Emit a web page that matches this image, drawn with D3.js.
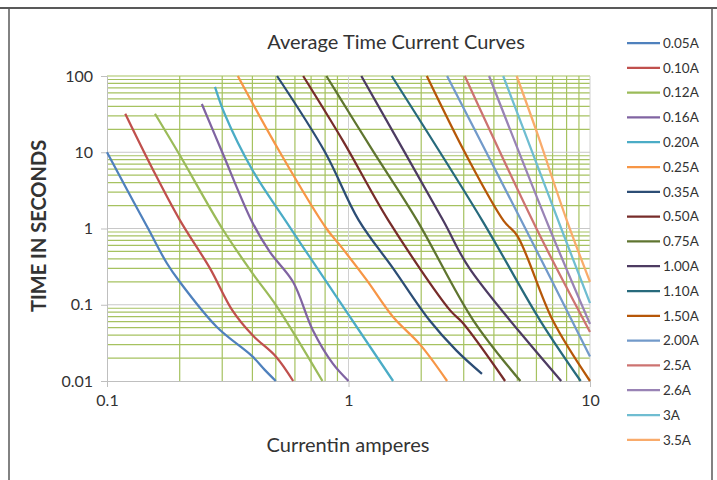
<!DOCTYPE html>
<html>
<head>
<meta charset="utf-8">
<script src="https://cdn.jsdelivr.net/npm/d3@7"></script>
<style>
  body { margin: 0; background: #fff; }
  text { font-family: Lato, "Open Sans", sans-serif; fill: #333; }
</style>
</head>
<body>
<script>
// series names and colours, in legend order
var seriesNames = ["0.05A", "0.10A", "0.12A", "0.16A", "0.20A", "0.25A", "0.35A", "0.50A", "0.75A",
                   "1.00A", "1.10A", "1.50A", "2.00A", "2.5A", "2.6A", "3A", "3.5A"];
var seriesColors = ["#4F81BD", "#C0504D", "#9BBB59", "#8064A2", "#4BACC6", "#F79646", "#2C4D75", "#772C2A", "#5F7530",
                    "#4D3B62", "#276A7C", "#B65708", "#729ACA", "#CD7371", "#9983B5", "#6FBDD1", "#F9AB6B"];

// [current A, time s]
var c005 = [[0.1, 10], [0.12, 3.4], [0.148, 1.0], [0.177, 0.35], [0.2, 0.2], [0.285, 0.051], [0.4, 0.021], [0.45, 0.014], [0.5, 0.01]];
var c010 = [[0.119, 32], [0.155, 5.9], [0.2, 1.3], [0.267, 0.3], [0.33, 0.085], [0.4, 0.04], [0.5, 0.021], [0.59, 0.01]];
var c012 = [[0.158, 32], [0.2, 9.2], [0.3, 1.0], [0.4, 0.26], [0.506, 0.094], [0.78, 0.01]];
var c016 = [[0.247, 43], [0.3, 10], [0.4, 1.2], [0.473, 0.49], [0.589, 0.2], [0.71, 0.047], [0.86, 0.017], [1.0, 0.01]];
var c020 = [[0.28, 72], [0.308, 31], [0.4, 5.85], [0.55, 1.25], [0.837, 0.171], [0.923, 0.108], [1.53, 0.01]];
var c025 = [[0.348, 100], [0.52, 10], [0.81, 1.0], [0.923, 0.6], [1.19, 0.21], [1.53, 0.069], [1.98, 0.03], [2.56, 0.01]];
var c035 = [[0.506, 100], [0.8, 10], [1.1, 1.3], [1.53, 0.3], [2.16, 0.063], [2.8, 0.025], [3.57, 0.0124]];
var c050 = [[0.649, 100], [0.95, 14], [1.46, 1.29], [2.63, 0.085], [2.97, 0.058], [4.45, 0.01]];
var c075 = [[0.81, 100], [1.0, 34], [1.26, 10.5], [1.92, 1.29], [3.28, 0.063], [5.15, 0.01]];
var c100 = [[1.13, 100], [2.46, 1.29], [3.17, 0.3], [7.6, 0.01]];
var c110 = [[1.51, 100], [3.57, 1.29], [6.2, 0.063], [9.15, 0.01]];
var c150 = [[2.11, 100], [3.1, 8.7], [4.4, 1.25], [5.0, 0.8], [7.0, 0.063], [10, 0.01]];
var c200 = [[2.56, 100], [5.4, 1.0], [10, 0.021]];
var c250 = [[3.03, 100], [6.0, 1.0], [10, 0.044]];
var c260 = [[3.82, 100], [6.8, 1.0], [10, 0.056]];
var c300 = [[4.37, 100], [6.0, 7.2], [7.6, 1.0], [10, 0.105]];
var c350 = [[4.97, 100], [6.0, 19], [8.0, 1.3], [10, 0.2]];
var seriesData = [c005, c010, c012, c016, c020, c025, c035, c050, c075, c100, c110, c150, c200, c250, c260, c300, c350];

var xTicks = [0.1, 1, 10];
var yTicks = [0.01, 0.1, 1, 10, 100];

var W = 717, H = 480;
var plot = { left: 107, right: 590, top: 76, bottom: 381 };

var svg = d3.select("body").append("svg")
    .attr("width", W)
    .attr("height", H);

svg.append("rect").attr("width", W).attr("height", H).attr("fill", "#fff");

// chart frame
svg.append("line").attr("x1", 0).attr("x2", W).attr("y1", 8).attr("y2", 8)
    .attr("stroke", "#595959").attr("stroke-width", 2);
svg.append("line").attr("x1", 9).attr("x2", 9).attr("y1", 8).attr("y2", H)
    .attr("stroke", "#595959").attr("stroke-width", 1.5);
svg.append("line").attr("x1", 712).attr("x2", 712).attr("y1", 8).attr("y2", H)
    .attr("stroke", "#595959").attr("stroke-width", 1.5);

var xScale = d3.scaleLog().domain([0.1, 10]).range([plot.left, plot.right]);
var yScale = d3.scaleLog().domain([0.01, 100]).range([plot.bottom, plot.top]);

// minor grid values 2..9 in each decade
function minors(lo, hi) {
    var out = [];
    for (var d = lo; d < hi * 0.999; d *= 10) {
        for (var k = 2; k <= 9; k++) out.push(d * k);
    }
    return out;
}

var grid = svg.append("g");
grid.selectAll(".vmin").data(minors(0.1, 10)).enter().append("line")
    .attr("x1", d => xScale(d)).attr("x2", d => xScale(d))
    .attr("y1", plot.top).attr("y2", plot.bottom)
    .attr("stroke", "#A6C260").attr("stroke-width", 1.2);
grid.selectAll(".hmin").data(minors(0.01, 100).concat([100])).enter().append("line")
    .attr("x1", plot.left).attr("x2", plot.right)
    .attr("y1", d => yScale(d)).attr("y2", d => yScale(d))
    .attr("stroke", "#A6C260").attr("stroke-width", 1.2);
grid.selectAll(".vmaj").data([1, 10]).enter().append("line")
    .attr("x1", d => xScale(d)).attr("x2", d => xScale(d))
    .attr("y1", plot.top).attr("y2", plot.bottom)
    .attr("stroke", "#D0D0D0").attr("stroke-width", 1);
grid.selectAll(".hmaj").data([0.1, 1, 10]).enter().append("line")
    .attr("x1", plot.left).attr("x2", plot.right)
    .attr("y1", d => yScale(d)).attr("y2", d => yScale(d))
    .attr("stroke", "#C8C8C8").attr("stroke-width", 1);

// axes
var xAxis = d3.axisBottom(xScale).tickValues(xTicks).tickFormat(d3.format("~g")).tickSize(6).tickPadding(8);
var yAxis = d3.axisLeft(yScale).tickValues(yTicks).tickFormat(d3.format("~g")).tickSize(6).tickPadding(8);

var gx = svg.append("g").attr("transform", "translate(0," + plot.bottom + ")").call(xAxis);
var gy = svg.append("g").attr("transform", "translate(" + plot.left + ",0)").call(yAxis);
[gx, gy].forEach(function(g) {
    g.select(".domain").attr("stroke", "#BFBFBF");
    g.selectAll(".tick line").attr("stroke", "#BFBFBF");
    g.selectAll(".tick text").attr("font-size", 16).attr("fill", "#333")
        .style("font-family", "Lato, sans-serif");
});

// curves
var line = d3.line()
    .x(d => xScale(d[0]))
    .y(d => yScale(d[1]))
    .curve(d3.curveCatmullRom.alpha(0.5));

svg.append("g").selectAll("path").data(seriesData).enter().append("path")
    .attr("d", line)
    .attr("fill", "none")
    .attr("stroke", (d, i) => seriesColors[i])
    .attr("stroke-width", 2.25);

// titles
svg.append("text").attr("x", 396).attr("y", 49).attr("text-anchor", "middle")
    .attr("font-size", 20).text("Average Time Current Curves");
svg.append("text").attr("x", 348).attr("y", 452).attr("text-anchor", "middle")
    .attr("font-size", 20).text("Currentin amperes");
svg.append("text").attr("transform", "translate(46,226) rotate(-90)").attr("text-anchor", "middle")
    .attr("font-size", 20).attr("font-weight", "bold").text("TIME IN SECONDS");

// legend
var legend = svg.append("g").selectAll("g").data(seriesNames).enter().append("g")
    .attr("transform", (d, i) => "translate(627," + (43 + i * 24.8) + ")");
legend.append("line").attr("x1", 0).attr("x2", 33).attr("y1", 0).attr("y2", 0)
    .attr("stroke", (d, i) => seriesColors[i]).attr("stroke-width", 2.25);
legend.append("text").attr("x", 36).attr("dy", "0.36em").attr("font-size", 13.5).text(d => d);
</script>
</body>
</html>
